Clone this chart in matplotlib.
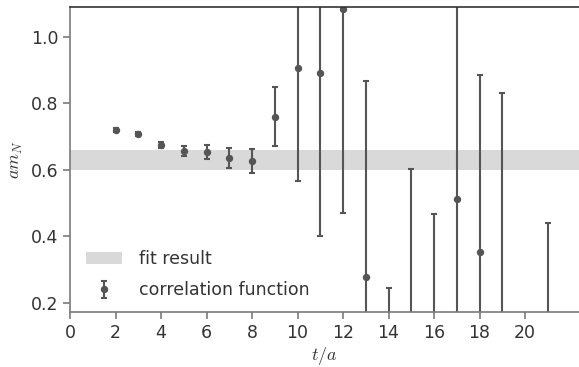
import numpy as np
import matplotlib
matplotlib.use("Agg")
import matplotlib.pyplot as plt

plt.rcParams["font.family"] = ["DejaVu Sans"]
plt.rcParams["mathtext.fontset"] = "cm"

# effective nucleon mass per time slice
t = [2, 3, 4, 5, 6, 7, 8, 9, 10, 11, 12, 13, 14, 15, 16, 17, 18, 19, 20, 21]
am_n = [0.720, 0.708, 0.675, 0.658, 0.654, 0.636, 0.628, 0.760, 0.906, 0.891,
        1.083, 0.279, -0.05, 0.10, 0.05, 0.512, 0.354, 0.00, np.nan, 0.10]
am_n_err = [0.006, 0.006, 0.010, 0.015, 0.020, 0.031, 0.036, 0.089, 0.339, 0.491,
            0.613, 0.590, 0.294, 0.503, 0.417, 0.700, 0.533, 0.832, np.nan, 0.340]

# fit result band
fit_lo, fit_hi = 0.600, 0.660

ink = "#555555"
text_c = "#333333"
spine_c = "#7a7a7a"

fig = plt.figure(figsize=(5.79, 3.67), dpi=100)
ax = fig.add_axes([70 / 579, 1 - 312 / 367, 509 / 579, 305 / 367])

band = ax.axhspan(fit_lo, fit_hi, color="#d9d9d9", lw=0, label="fit result")
eb = ax.errorbar(t, am_n, yerr=am_n_err, fmt="o", color=ink, ms=4.3,
                 elinewidth=1.5, capsize=2.2, capthick=1.5,
                 label="correlation function")

ax.set_xlim(0, 22.37)
ax.set_ylim(0.173, 1.09)
ax.set_xticks(np.arange(0, 21, 2))
ax.set_yticks([0.2, 0.4, 0.6, 0.8, 1.0])
ax.set_yticklabels(["0.2", "0.4", "0.6", "0.8", "1.0"])

ax.set_xlabel(r"$t/a$", fontsize=13, color=text_c, labelpad=2)
ax.set_ylabel(r"$am_N$", fontsize=13, color=text_c)

for name, s in ax.spines.items():
    s.set_linewidth(1.2)
    s.set_color(spine_c)
ax.spines["top"].set_color(text_c)
ax.spines["right"].set_visible(False)
ax.tick_params(direction="out", length=5, width=1.2, colors=spine_c,
               labelsize=12.5, labelcolor=text_c)

leg = ax.legend(handles=[band, eb], loc="lower left", frameon=False,
                fontsize=12.5, bbox_to_anchor=(0.0, -0.01),
                handlelength=2.1, handletextpad=1.0, labelspacing=0.75)
for txt in leg.get_texts():
    txt.set_color(text_c)

fig.savefig("out.png", dpi=100)
